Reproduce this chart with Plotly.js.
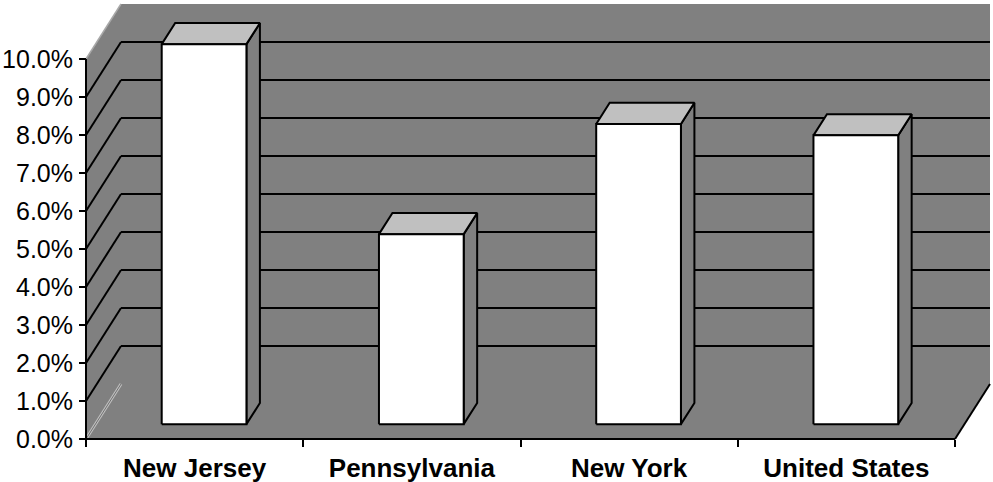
<!DOCTYPE html>
<html>
<head>
<meta charset="utf-8">
<script src="https://cdn.plot.ly/plotly-3.0.1.min.js"></script>
<style>
  html, body { margin: 0; padding: 0; background: #ffffff; }
  #chart { width: 993px; height: 482px; }
</style>
</head>
<body>
<div id="chart"></div>
<script>
// Share of population by region (3D column chart)
const categories = ['New Jersey', 'Pennsylvania', 'New York', 'United States'];
const values = [10.0, 5.0, 7.9, 7.6];
const yTickValues = [0, 1, 2, 3, 4, 5, 6, 7, 8, 9, 10];
const yTickLabels = ['0.0%', '1.0%', '2.0%', '3.0%', '4.0%', '5.0%', '6.0%', '7.0%', '8.0%', '9.0%', '10.0%'];

// Oblique projection of the depth axis, in data units
const DX = 0.1611;   // horizontal shift (category units) for full depth
const DY = 1.4474;   // vertical shift (percent units) for full depth
const F0 = 0.27, F1 = 0.655;   // depth span of each column
const BAR_W = 0.39;            // column width in category units

const nCat = categories.length;
const yMax = yTickValues[yTickValues.length - 1];
const yMin = yTickValues[0];

const WALL = '#808080', TOP = '#c0c0c0', FRONT = '#ffffff', INK = '#000000';

const traces = [];
function poly(xs, ys, fill, lineColor, lineWidth) {
  traces.push({
    type: 'scatter', mode: 'lines', x: xs.concat([xs[0]]), y: ys.concat([ys[0]]),
    fill: 'toself', fillcolor: fill,
    line: { color: lineColor || fill, width: lineWidth === undefined ? 0 : lineWidth },
    hoverinfo: 'skip', showlegend: false
  });
}
function seg(x0, y0, x1, y1, color, width) {
  traces.push({
    type: 'scatter', mode: 'lines', x: [x0, x1], y: [y0, y1],
    line: { color: color, width: width }, hoverinfo: 'skip', showlegend: false
  });
}

// Walls and floor as one grey body
poly([0, nCat, nCat + DX, nCat + DX, DX, 0],
     [yMin, yMin, yMin + DY, yMax + DY, yMax + DY, yMax], WALL);

// Gridlines on the back wall and the side wall
yTickValues.forEach(v => {
  if (v === yMin || v === yMax) return;
  seg(DX, v + DY, nCat + DX, v + DY, INK, 2);
  seg(0, v, DX, v + DY, INK, 2);
});
// Side wall edges
seg(0, yMax, DX, yMax + DY, '#a8a8a8', 1.5);
seg(0, yMin, DX, yMin + DY, '#c0c0c0', 3);
seg(0, yMin, DX, yMin + DY, '#707070', 1);

// Columns
values.forEach((val, i) => {
  const c = i + 0.5;
  const l = c - BAR_W / 2, r = c + BAR_W / 2;
  const b0 = yMin + F0 * DY, b1 = yMin + F1 * DY;
  const t0 = val + F0 * DY, t1 = val + F1 * DY;
  // right side
  poly([r + F0 * DX, r + F1 * DX, r + F1 * DX, r + F0 * DX], [b0, b1, t1, t0], WALL, INK, 2);
  // top
  poly([l + F0 * DX, r + F0 * DX, r + F1 * DX, l + F1 * DX], [t0, t0, t1, t1], TOP, INK, 2);
  // front
  poly([l + F0 * DX, r + F0 * DX, r + F0 * DX, l + F0 * DX], [b0, b0, t0, t0], FRONT, INK, 2);
});

// Front axis lines and floor edge
seg(0, yMin, 0, yMax, INK, 2);
seg(0, yMin, nCat, yMin, INK, 2);
seg(nCat, yMin, nCat + DX, yMin + DY, INK, 2);

// Pixel mapping of the full figure: front axis at x=86px, 0% at y=439px
const W = 993, H = 482;
const PX_PER_CAT = 217.25, PX_PER_PCT = 38;
const X0 = 86, Y0 = 439;
const xRange = [-X0 / PX_PER_CAT, (W - X0) / PX_PER_CAT];
const yRange = [-(H - Y0) / PX_PER_PCT, Y0 / PX_PER_PCT];

const layout = {
  width: W, height: H,
  margin: { l: 0, r: 0, t: 0, b: 0, pad: 0 },
  paper_bgcolor: '#ffffff', plot_bgcolor: '#ffffff',
  showlegend: false,
  xaxis: {
    range: xRange, showgrid: false, zeroline: false, showline: false,
    anchor: 'free', position: (H - Y0) / H,
    tickmode: 'array', tickvals: categories.map((_, i) => i + 0.5), ticktext: categories,
    ticks: '', ticklabelstandoff: 11,
    tickfont: { family: 'Liberation Sans, Arial, sans-serif', size: 26, color: INK, weight: 'bold' },
    minor: { tickmode: 'linear', tick0: 0, dtick: 1, ticks: 'outside', ticklen: 7, tickwidth: 2, tickcolor: INK },
    fixedrange: true, automargin: false
  },
  yaxis: {
    range: yRange, showgrid: false, zeroline: false, showline: false,
    anchor: 'free', position: X0 / W,
    tickmode: 'array', tickvals: yTickValues, ticktext: yTickLabels,
    ticks: 'outside', ticklen: 7, tickwidth: 2, tickcolor: INK, ticklabelstandoff: 1,
    tickfont: { family: 'Liberation Sans, Arial, sans-serif', size: 25, color: INK },
    fixedrange: true, automargin: false
  }
};

Plotly.newPlot('chart', traces, layout, { staticPlot: true, displayModeBar: false });
</script>
</body>
</html>
